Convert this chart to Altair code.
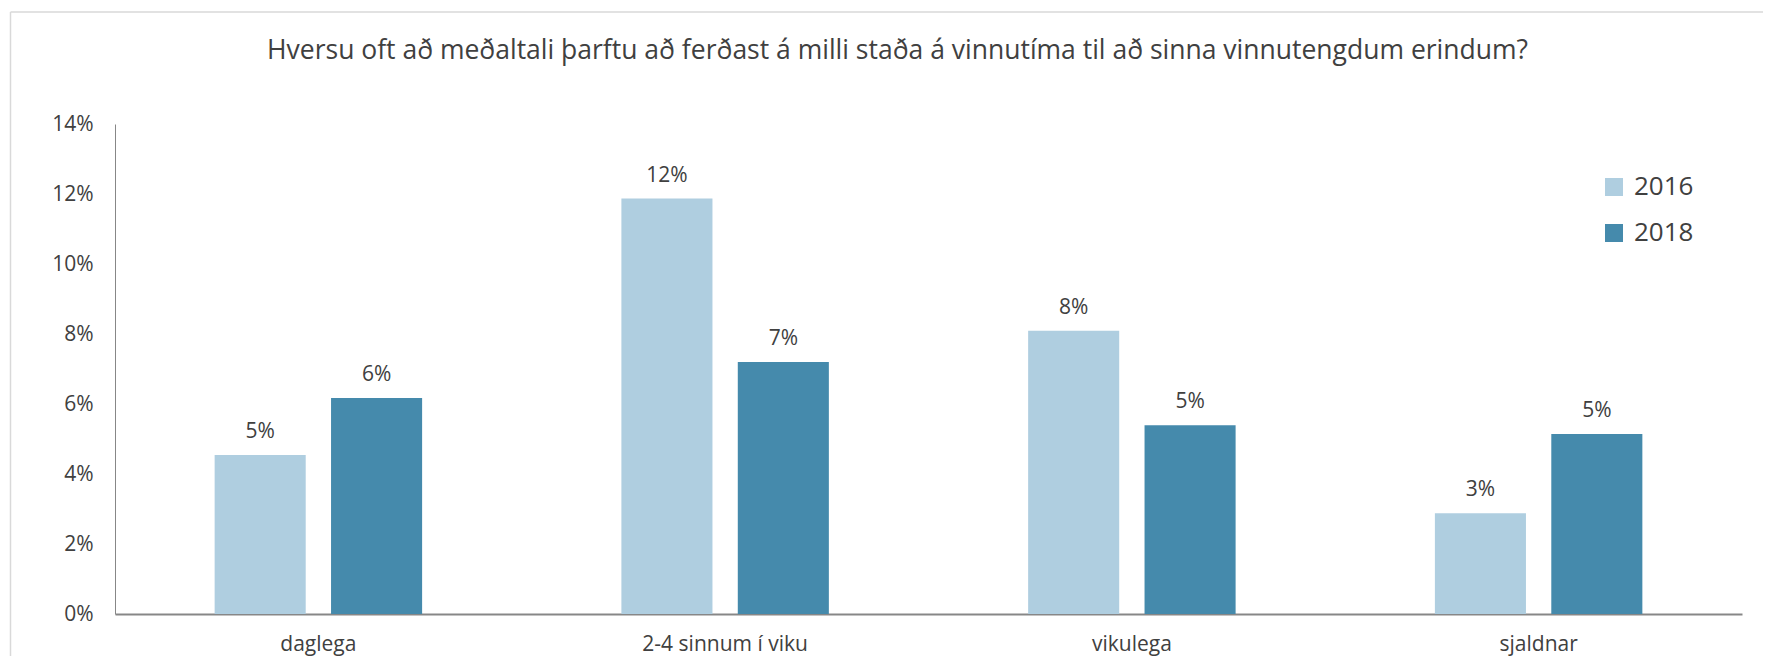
import altair as alt
import pandas as pd

categories = ["daglega", "2-4 sinnum í viku", "vikulega", "sjaldnar"]
years = ["2016", "2018"]
values_2016 = [0.0454, 0.1187, 0.0809, 0.0288]
values_2018 = [0.0617, 0.0720, 0.0539, 0.0514]
title_text = "Hversu oft að meðaltali þarftu að ferðast á milli staða á vinnutíma til að sinna vinnutengdum erindum?"

rows = []
for c, a, b in zip(categories, values_2016, values_2018):
    rows.append({"cat": c, "year": "2016", "value": a})
    rows.append({"cat": c, "year": "2018", "value": b})
df = pd.DataFrame(rows)

FONT = "Open Sans"
TXT = "#404040"

base = alt.Chart(df).encode(
    x=alt.X("cat:N", sort=categories, title=None,
            scale=alt.Scale(paddingInner=0, paddingOuter=0),
            axis=alt.Axis(labelAngle=0, ticks=False, labelPadding=19,
                          labelFontSize=21, labelColor=TXT, labelFont=FONT,
                          domainColor="#878787", domainWidth=2)),
    xOffset=alt.XOffset("year:N", sort=years,
                        scale=alt.Scale(paddingInner=0.2176, paddingOuter=0.856)),
)

bars = base.mark_bar().encode(
    y=alt.Y("value:Q", title=None,
            scale=alt.Scale(domain=[0, 0.14], nice=False),
            axis=alt.Axis(format=".0%", values=[0, 0.02, 0.04, 0.06, 0.08, 0.10, 0.12, 0.14],
                          grid=False, ticks=False, labelPadding=22,
                          labelFontSize=21, labelColor=TXT, labelFont=FONT,
                          domainColor="#878787", domainWidth=1)),
    color=alt.Color("year:N", sort=years,
                    scale=alt.Scale(domain=years, range=["#AFCEE0", "#458AAC"]),
                    legend=alt.Legend(title=None, orient="none", legendX=1486, legendY=50,
                                      symbolType="square", symbolSize=324,
                                      symbolStrokeWidth=0,
                                      labelFontSize=26, labelColor=TXT, labelFont=FONT,
                                      labelOffset=7, rowPadding=20)),
)

labels = base.mark_text(baseline="alphabetic", dy=-17, fontSize=21, color=TXT, font=FONT).encode(
    y=alt.Y("value:Q"),
    text=alt.Text("value:Q", format=".0%"),
)

frame_data = alt.Data(values=[{"t": title_text}])
left_border = alt.Chart(frame_data).mark_rule(color="#d9d9d9", strokeWidth=1.5).encode(
    x=alt.value(-104.5), y=alt.value(-112), y2=alt.value(700))
top_border = alt.Chart(frame_data).mark_rule(color="#d9d9d9", strokeWidth=1.5).encode(
    x=alt.value(-104.5), x2=alt.value(1700), y=alt.value(-112))
title = alt.Chart(frame_data).mark_text(
    fontSize=26.5, font=FONT, color=TXT, align="center", baseline="alphabetic"
).encode(x=alt.value(782.5), y=alt.value(-65), text="t:N")

chart = alt.layer(bars, labels, left_border, top_border, title).properties(
    width=1627, height=490,
    autosize=alt.AutoSizeParams(type="none"),
    padding={"left": 107, "top": 116, "right": 21, "bottom": 42},
).configure_view(stroke=None)

chart.save("out.html", embed_options={"renderer": "svg", "actions": False})
